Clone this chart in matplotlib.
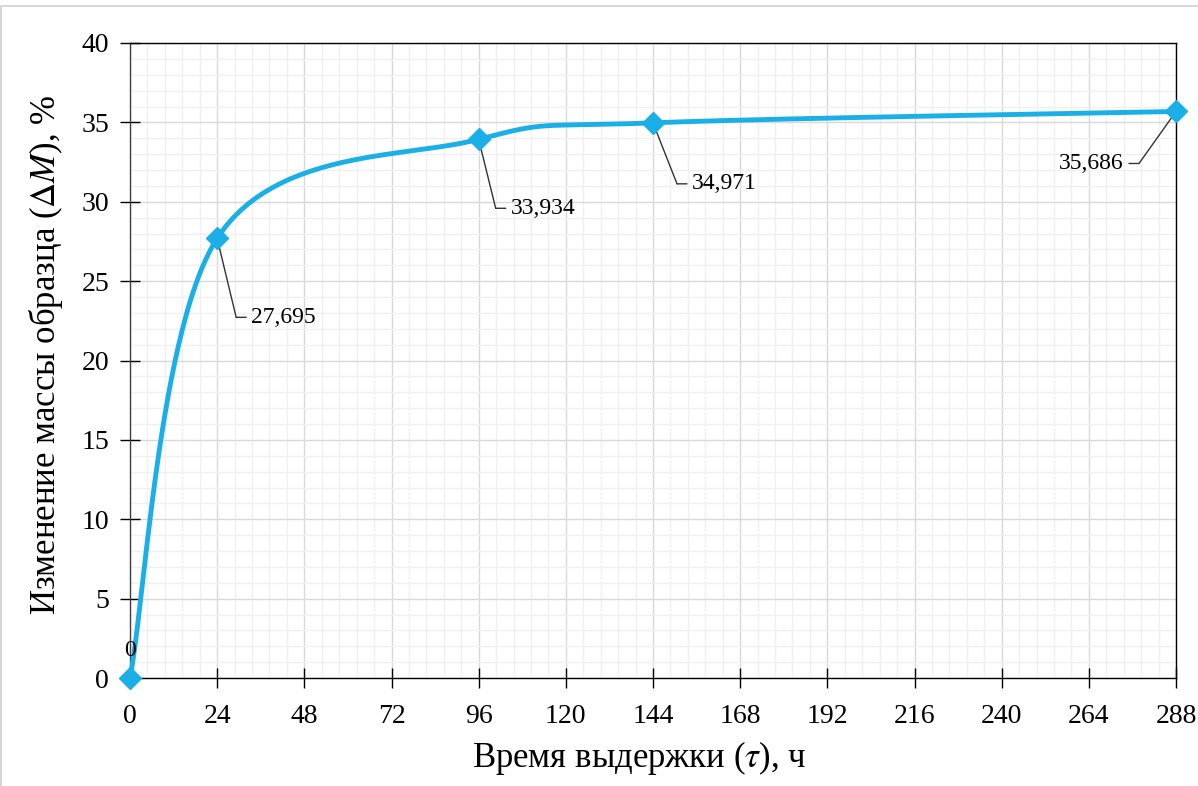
import numpy as np
import matplotlib.pyplot as plt
from matplotlib.transforms import ScaledTranslation
from matplotlib.patches import Rectangle

# данные
hours = [0, 24, 96, 144, 288]
mass = [0, 27.695, 33.934, 34.971, 35.686]
labels = ["0", "27,695", "33,934", "34,971", "35,686"]
xticks = list(range(0, 289, 24))
yticks = list(range(0, 41, 5))

# смещения подписей (пиксели): излом выноски, конец полки, текст
lead_off = [None, (19, -79), (17, -69), (24, -61), (-37, -52)]
shelf_len = [0, 10, 10, 10, -10]

plt.rcParams['font.family'] = ['Liberation Serif', 'DejaVu Serif']
plt.rcParams['mathtext.fontset'] = 'stix'

BLUE = '#1AAFE6'


def smooth(x, y, n=60):
    # сглаживание как в Excel (кривые Безье по Катмулл-Рому)
    x = np.asarray(x, float)
    y = np.asarray(y, float)
    xs, ys = [], []
    m = len(x)
    for i in range(m - 1):
        i0 = max(i - 1, 0)
        i3 = min(i + 2, m - 1)
        p0 = np.array([x[i], y[i]])
        p3 = np.array([x[i + 1], y[i + 1]])
        c1 = p0 + (np.array([x[i + 1], y[i + 1]]) - np.array([x[i0], y[i0]])) / 6
        c2 = p3 - (np.array([x[i3], y[i3]]) - np.array([x[i], y[i]])) / 6
        t = np.linspace(0, 1, n)[:, None]
        pts = ((1 - t) ** 3) * p0 + 3 * ((1 - t) ** 2) * t * c1 + 3 * (1 - t) * t ** 2 * c2 + t ** 3 * p3
        xs.extend(pts[:, 0])
        ys.extend(pts[:, 1])
    return np.array(xs), np.array(ys)


fig = plt.figure(figsize=(11.98, 7.86), dpi=100)
ax = fig.add_axes([130 / 1198, 1 - 678 / 786, 1046 / 1198, 635 / 786])

# рамка области диаграммы
fig.patches.append(Rectangle((1 / 1198, -0.1), 1.2, 1.1 - 6 / 786, transform=fig.transFigure,
                             fill=False, edgecolor='#d0d0d0', linewidth=1.2))

sx, sy = smooth(hours, mass)
ax.plot(sx, sy, color=BLUE, linewidth=3.5, zorder=3, clip_on=False)
ax.plot(hours, mass, linestyle='none', marker='D', markersize=11, color=BLUE, zorder=4, clip_on=False)

ax.set_xlim(0, 288)
ax.set_ylim(0, 40)
ax.set_xticks(xticks)
ax.set_yticks(yticks)
ax.set_xticks(np.arange(0, 288.01, 4.8), minor=True)
ax.set_yticks(np.arange(0, 40.01, 1), minor=True)
ax.grid(which='major', color='#d9d9d9', linewidth=1.0)
ax.grid(which='minor', color='#f0f0f0', linewidth=1.0)
ax.set_axisbelow(True)
ax.tick_params(which='major', direction='inout', length=14, width=1, labelsize=20, colors='black')
ax.tick_params(which='minor', length=0)
ax.tick_params(axis='x', pad=12)
ax.tick_params(axis='y', pad=8)
for s in ax.spines.values():
    s.set_color('black')
    s.set_linewidth(1.0)
ax.spines['left'].set_color('#404040')

ax.set_xlabel('Время выдержки ($\\mathit{\\tau}$), ч', fontsize=25, labelpad=7)
ax.set_ylabel('Изменение массы образца ($\\Delta \\mathit{M}$), %', fontsize=25, labelpad=12)
ax.xaxis.label.set_x(0.487)
ax.yaxis.label.set_y(0.509)

# подписи данных с выносками
px = 1 / fig.dpi
for i, (x, y, lab) in enumerate(zip(hours, mass, labels)):
    if lead_off[i] is None:
        ax.annotate(lab, (x, y), xytext=(0, 28), textcoords='offset pixels',
                    ha='center', va='center', fontsize=17, annotation_clip=False)
        continue
    dx, dy = lead_off[i]
    elbow = ax.transData + ScaledTranslation(dx * px, dy * px, fig.dpi_scale_trans)
    ax.annotate('', xy=(x, y), xycoords='data', xytext=(x, y), textcoords=elbow,
                arrowprops=dict(arrowstyle='-', color='#333333', lw=1.0, shrinkA=0, shrinkB=0),
                annotation_clip=False)
    ax.annotate('', xy=(x, y), xycoords=elbow, xytext=(shelf_len[i], 0), textcoords='offset pixels',
                arrowprops=dict(arrowstyle='-', color='#333333', lw=1.0, shrinkA=0, shrinkB=0),
                annotation_clip=False)
    gap = 5 if shelf_len[i] > 0 else -5
    ax.annotate(lab, (x, y), xycoords=elbow, xytext=(shelf_len[i] + gap, 0), textcoords='offset pixels',
                ha='left' if shelf_len[i] > 0 else 'right', va='center', fontsize=17,
                annotation_clip=False)

fig.savefig('out.png', dpi=100)
